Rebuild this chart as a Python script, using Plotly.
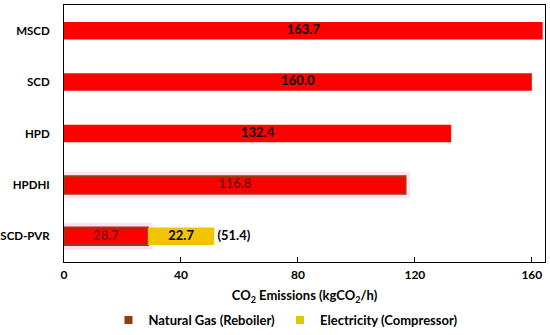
import plotly.graph_objects as go

categories = ["MSCD", "SCD", "HPD", "HPDHI", "SCD-PVR"]
natural_gas = [163.7, 160.0, 132.4, 116.8, 28.7]
electricity = [0, 0, 0, 0, 22.7]
x_ticks = [0, 40, 80, 120, 160]

highlight = [False, False, False, True, True]  # bars drawn with border + glow

RED = "#FF0000"
BROWN = "#9A3A12"
YELLOW = "#F0C400"
YELLOW_LEG = "#D8CC00"
PINK = "#FCE0F4"
BAR_W = 0.34
FONT = "Lato"

fig = go.Figure()

# glow behind highlighted natural gas bars
fig.add_trace(go.Bar(
    y=categories,
    x=[v if h else None for v, h in zip(natural_gas, highlight)],
    orientation="h", width=BAR_W,
    marker=dict(color=PINK, line=dict(color=PINK, width=9)),
    showlegend=False, hoverinfo="skip",
))

# natural gas bars
fig.add_trace(go.Bar(
    y=categories, x=natural_gas, orientation="h", width=BAR_W,
    marker=dict(color=RED,
                line=dict(color=[BROWN if h else RED for h in highlight],
                          width=[2 if h else 0 for h in highlight])),
    showlegend=False, name="Natural Gas (Reboiler)", hoverinfo="x+y",
))

# electricity bars (stacked after natural gas)
fig.add_trace(go.Bar(
    y=categories,
    x=[e if e else None for e in electricity],
    base=natural_gas,
    orientation="h", width=BAR_W,
    marker=dict(color=YELLOW, line=dict(color=YELLOW, width=0)),
    showlegend=False, name="Electricity (Compressor)",
))

# value labels centred in each segment
fig.add_trace(go.Scatter(
    y=categories, x=[n / 2 for n in natural_gas], mode="text",
    text=[f"{v:.1f}" for v in natural_gas],
    textposition="middle center",
    textfont=dict(family=FONT, size=13, weight="bold",
                  color=["#7A1010" if h else "black" for h in highlight]),
    showlegend=False, hoverinfo="skip",
))
fig.add_trace(go.Scatter(
    y=categories,
    x=[n + e / 2 if e else None for n, e in zip(natural_gas, electricity)],
    mode="text",
    text=[f"{e:.1f}" if e else "" for e in electricity],
    textposition="middle center",
    textfont=dict(family=FONT, size=13, weight="bold", color="black"),
    showlegend=False, hoverinfo="skip",
))

# totals for stacked bars
totals = [n + e for n, e in zip(natural_gas, electricity)]
fig.add_trace(go.Scatter(
    y=categories,
    x=[t if e else None for t, e in zip(totals, electricity)],
    mode="text",
    text=[f" ({t:.1f})" if e else "" for t, e in zip(totals, electricity)],
    textposition="middle right",
    textfont=dict(family=FONT, size=13, weight="bold", color="black"),
    showlegend=False, hoverinfo="skip",
))

# legend entries
fig.add_trace(go.Scatter(x=[None], y=[None], mode="markers",
                         marker=dict(symbol="square", size=8, color=BROWN),
                         name="Natural Gas (Reboiler)"))
fig.add_trace(go.Scatter(x=[None], y=[None], mode="markers",
                         marker=dict(symbol="square", size=8, color=YELLOW_LEG),
                         name="Electricity (Compressor)"))

fig.update_layout(
    width=550, height=335,
    margin=dict(l=64, r=5, t=5, b=73),
    barmode="overlay",
    plot_bgcolor="white", paper_bgcolor="white",
    font=dict(family=FONT, size=12, color="black"),
    legend=dict(orientation="h", x=0.52, xref="container", xanchor="center",
                y=0.0, yref="container", yanchor="bottom",
                font=dict(family=FONT, size=13, color="black", weight="bold"),
                itemwidth=30),
    showlegend=True,
)

fig.update_xaxes(
    range=[0, 164.5], tickvals=x_ticks, ticktext=[str(t) for t in x_ticks],
    showgrid=False, zeroline=False, automargin=False,
    showline=True, linecolor="black", linewidth=1, mirror=True,
    ticks="inside", ticklen=5, tickcolor="black", ticklabelstandoff=2,
    tickfont=dict(family=FONT, size=12, color="black", weight="bold"),
    title=dict(text="CO<sub>2</sub> Emissions (kgCO<sub>2</sub>/h)",
               font=dict(family=FONT, size=13, color="black", weight="bold"),
               standoff=19),
)
fig.update_yaxes(
    categoryorder="array", categoryarray=categories, autorange="reversed",
    showgrid=False, zeroline=False, automargin=False,
    showline=True, linecolor="black", linewidth=1, mirror=True,
    ticks="", ticklabelstandoff=11,
    tickfont=dict(family=FONT, size=11.5, color="black", weight="bold"),
)

fig.write_html("out.html",
               config={"displayModeBar": False},
               post_script="document.body.style.margin='0';")
